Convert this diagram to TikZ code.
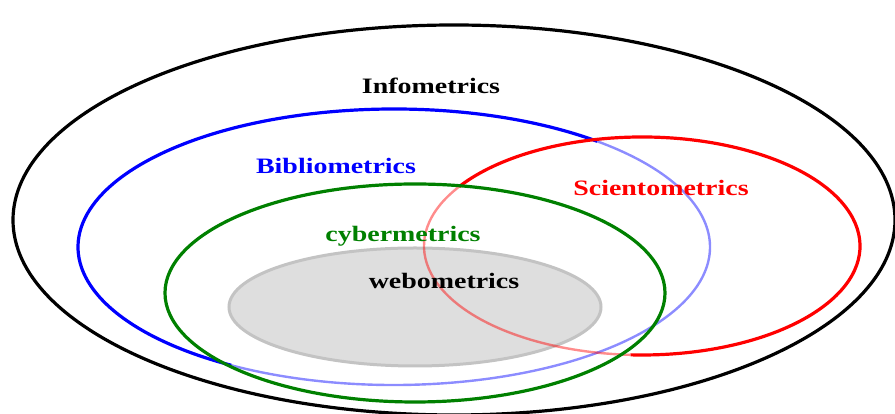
\documentclass[tikz,border=0pt]{standalone}
\usepackage{fontspec}
\newfontfamily\setfont{Liberation Serif}[FakeStretch=1.27]
\usetikzlibrary{calc}
\definecolor{cybergreen}{RGB}{0,128,0}
\definecolor{webfill}{RGB}{222,222,222}
\definecolor{webline}{RGB}{195,195,195}
\tikzset{
  setlabel/.style={font=\setfont\bfseries\fontsize{22}{22}\selectfont, inner sep=0pt},
  setline/.style={line width=3.2pt},
  faded/.style={line width=2.4pt, opacity=.45}
}

\begin{document}
\begin{tikzpicture}[x=1pt, y=1pt]
                \clip (0,0) rectangle (895,414);
                \coordinate (info) at (454,194);
                \coordinate (biblio) at (394,167);
                \coordinate (sciento) at (642,168);
                \coordinate (cyber) at (415,121);
                \coordinate (webo) at (415,107);
                % outer set
                \draw[setline, black] (info) ellipse [x radius=441, y radius=195];
                % webometrics
                \draw[line width=3pt, draw=webline, fill=webfill] (webo) ellipse [x radius=186, y radius=59];
                % bibliometrics, front and back parts
                \draw[setline, blue] ($(biblio)+(50:316 and 138)$) arc[start angle=50, end angle=239, x radius=316, y radius=138];
                \draw[faded, blue] ($(biblio)+(239:316 and 138)$) arc[start angle=239, end angle=410, x radius=316, y radius=138];
                % scientometrics, front and back parts
                \draw[setline, red] ($(sciento)+(147:218 and 109)$) arc[start angle=147, end angle=-93, x radius=218, y radius=109];
                \draw[faded, red] ($(sciento)+(147:218 and 109)$) arc[start angle=147, end angle=267, x radius=218, y radius=109];
                % cybermetrics
                \draw[setline, cybergreen] (cyber) ellipse [x radius=250, y radius=109];
                \node[setlabel, black] (infoname) at (431,328) {Infometrics};
                \node[setlabel, blue] (biblioname) at (336,248) {Bibliometrics};
                \node[setlabel, red] (scientoname) at (661,226) {Scientometrics};
                \node[setlabel, cybergreen] (cybername) at (403,178) {cybermetrics};
                \node[setlabel, black] (weboname) at (444,133) {webometrics};
            \end{tikzpicture}
\end{document}
